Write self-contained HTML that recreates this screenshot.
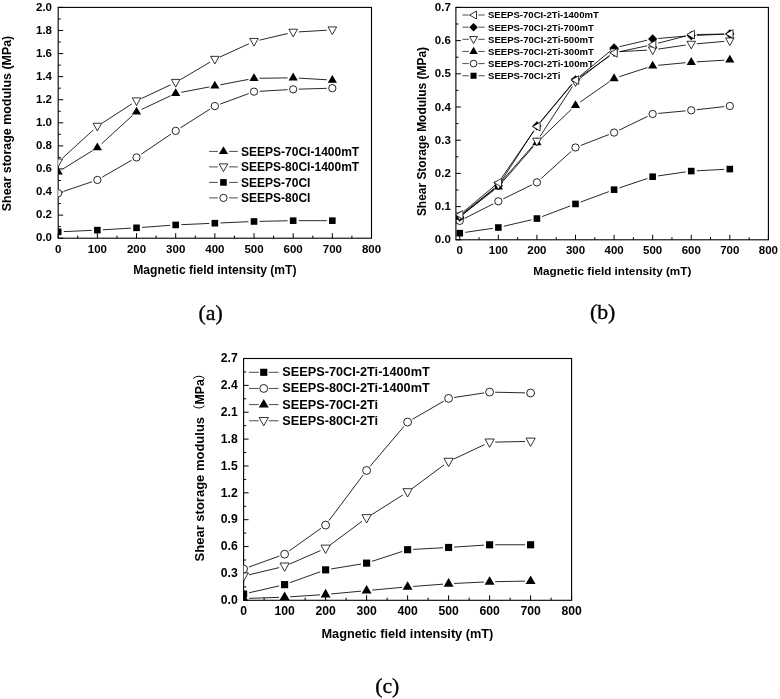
<!DOCTYPE html>
<html><head><meta charset="utf-8"><title>Shear storage modulus vs magnetic field intensity</title>
<style>html,body{margin:0;padding:0;background:#fff}svg{display:block}text{font-family:"Liberation Sans", "Noto Sans CJK SC", sans-serif;fill:#000}</style></head>
<body><svg width="780" height="699" viewBox="0 0 780 699">
<rect width="780" height="699" fill="#fff"/>
<g>
<clipPath id="clipa"><rect x="58.2" y="6.9" width="313.8" height="231.8"/></clipPath>
<path d="M58.2 238.2v-5M97.36 238.2v-5M136.53 238.2v-5M175.69 238.2v-5M214.85 238.2v-5M254.01 238.2v-5M293.18 238.2v-5M332.34 238.2v-5M371.5 238.2v-5M77.78 238.2v-2.6M116.94 238.2v-2.6M156.11 238.2v-2.6M195.27 238.2v-2.6M234.43 238.2v-2.6M273.59 238.2v-2.6M312.76 238.2v-2.6M351.92 238.2v-2.6M58.2 238.2h5M58.2 215.12h5M58.2 192.04h5M58.2 168.96h5M58.2 145.88h5M58.2 122.8h5M58.2 99.72h5M58.2 76.64h5M58.2 53.56h5M58.2 30.48h5M58.2 7.4h5M58.2 226.66h2.6M58.2 203.58h2.6M58.2 180.5h2.6M58.2 157.42h2.6M58.2 134.34h2.6M58.2 111.26h2.6M58.2 88.18h2.6M58.2 65.1h2.6M58.2 42.02h2.6M58.2 18.94h2.6" stroke="#000" stroke-width="1" fill="none"/>
<rect x="58.2" y="7.4" width="313.3" height="230.8" fill="none" stroke="#000" stroke-width="1.1"/>
<text x="58.2" y="252.6" font-size="11.5" text-anchor="middle" font-weight="bold">0</text>
<text x="97.36" y="252.6" font-size="11.5" text-anchor="middle" font-weight="bold">100</text>
<text x="136.53" y="252.6" font-size="11.5" text-anchor="middle" font-weight="bold">200</text>
<text x="175.69" y="252.6" font-size="11.5" text-anchor="middle" font-weight="bold">300</text>
<text x="214.85" y="252.6" font-size="11.5" text-anchor="middle" font-weight="bold">400</text>
<text x="254.01" y="252.6" font-size="11.5" text-anchor="middle" font-weight="bold">500</text>
<text x="293.18" y="252.6" font-size="11.5" text-anchor="middle" font-weight="bold">600</text>
<text x="332.34" y="252.6" font-size="11.5" text-anchor="middle" font-weight="bold">700</text>
<text x="371.5" y="252.6" font-size="11.5" text-anchor="middle" font-weight="bold">800</text>
<text x="52" y="241.32" font-size="11.5" text-anchor="end" font-weight="bold">0.0</text>
<text x="52" y="218.24" font-size="11.5" text-anchor="end" font-weight="bold">0.2</text>
<text x="52" y="195.16" font-size="11.5" text-anchor="end" font-weight="bold">0.4</text>
<text x="52" y="172.08" font-size="11.5" text-anchor="end" font-weight="bold">0.6</text>
<text x="52" y="149" font-size="11.5" text-anchor="end" font-weight="bold">0.8</text>
<text x="52" y="125.92" font-size="11.5" text-anchor="end" font-weight="bold">1.0</text>
<text x="52" y="102.84" font-size="11.5" text-anchor="end" font-weight="bold">1.2</text>
<text x="52" y="79.76" font-size="11.5" text-anchor="end" font-weight="bold">1.4</text>
<text x="52" y="56.68" font-size="11.5" text-anchor="end" font-weight="bold">1.6</text>
<text x="52" y="33.6" font-size="11.5" text-anchor="end" font-weight="bold">1.8</text>
<text x="52" y="10.52" font-size="11.5" text-anchor="end" font-weight="bold">2.0</text>
<g clip-path="url(#clipa)">
<path d="M63.79 231.61L91.77 230.37M102.95 229.79L130.93 228.14M142.11 227.4L170.1 225.34M181.28 224.68L209.26 223.45M220.44 222.95L248.42 221.71M259.61 221.35L287.58 220.77M298.78 220.66L326.74 220.66" stroke="#000" stroke-width="0.85" fill="none"/>
<path d="M63.5 191.4L92.06 181.72M102.22 177.13L131.67 160.21M141.16 154.28L171.05 134.02M180.42 127.88L210.12 109.06M220.1 104.13L248.76 93.58M259.6 91.31L287.58 89.66M298.77 89.17L326.74 88.34" stroke="#000" stroke-width="0.85" fill="none"/>
<path d="M62.33 158.26L93.23 130.04M102.06 123.22L131.83 103.92M141.59 98.49L170.62 84.8M180.51 79.57L210.03 62.17M219.94 57L248.92 43.77M259.46 40.16L287.72 33.5M298.77 31.88L326.75 30.23" stroke="#000" stroke-width="0.85" fill="none"/>
<path d="M62.96 168.9L92.6 150.56M101.5 143.83L132.39 115.61M141.59 109.45L170.62 95.76M181.19 92.32L209.35 86.93M220.35 84.82L248.51 79.42M259.61 78.29L287.58 77.88M298.77 78.12L326.75 79.77" stroke="#000" stroke-width="0.85" fill="none"/>
<rect x="54.9" y="228.55" width="6.6" height="6.6" fill="#000"/>
<rect x="94.06" y="226.82" width="6.6" height="6.6" fill="#000"/>
<rect x="133.22" y="224.51" width="6.6" height="6.6" fill="#000"/>
<rect x="172.39" y="221.63" width="6.6" height="6.6" fill="#000"/>
<rect x="211.55" y="219.9" width="6.6" height="6.6" fill="#000"/>
<rect x="250.71" y="218.17" width="6.6" height="6.6" fill="#000"/>
<rect x="289.88" y="217.36" width="6.6" height="6.6" fill="#000"/>
<rect x="329.04" y="217.36" width="6.6" height="6.6" fill="#000"/>
<circle cx="58.2" cy="193.19" r="3.65" fill="#fff" stroke="#000" stroke-width="0.85"/>
<circle cx="97.36" cy="179.92" r="3.65" fill="#fff" stroke="#000" stroke-width="0.85"/>
<circle cx="136.53" cy="157.42" r="3.65" fill="#fff" stroke="#000" stroke-width="0.85"/>
<circle cx="175.69" cy="130.88" r="3.65" fill="#fff" stroke="#000" stroke-width="0.85"/>
<circle cx="214.85" cy="106.07" r="3.65" fill="#fff" stroke="#000" stroke-width="0.85"/>
<circle cx="254.01" cy="91.64" r="3.65" fill="#fff" stroke="#000" stroke-width="0.85"/>
<circle cx="293.18" cy="89.33" r="3.65" fill="#fff" stroke="#000" stroke-width="0.85"/>
<circle cx="332.34" cy="88.18" r="3.65" fill="#fff" stroke="#000" stroke-width="0.85"/>
<path d="M53.9 159.04 L62.5 159.04 L58.2 166.74 Z" fill="#fff" stroke="#000" stroke-width="0.8"/>
<path d="M93.06 123.26 L101.66 123.26 L97.36 130.96 Z" fill="#fff" stroke="#000" stroke-width="0.8"/>
<path d="M132.22 97.87 L140.83 97.87 L136.53 105.57 Z" fill="#fff" stroke="#000" stroke-width="0.8"/>
<path d="M171.39 79.41 L179.99 79.41 L175.69 87.11 Z" fill="#fff" stroke="#000" stroke-width="0.8"/>
<path d="M210.55 56.33 L219.15 56.33 L214.85 64.03 Z" fill="#fff" stroke="#000" stroke-width="0.8"/>
<path d="M249.71 38.44 L258.31 38.44 L254.01 46.14 Z" fill="#fff" stroke="#000" stroke-width="0.8"/>
<path d="M288.88 29.21 L297.48 29.21 L293.18 36.91 Z" fill="#fff" stroke="#000" stroke-width="0.8"/>
<path d="M328.04 26.9 L336.64 26.9 L332.34 34.6 Z" fill="#fff" stroke="#000" stroke-width="0.8"/>
<path d="M53.6 174.54 L62.8 174.54 L58.2 166.65 Z" fill="#000"/>
<path d="M92.76 150.31 L101.96 150.31 L97.36 142.41 Z" fill="#000"/>
<path d="M131.93 114.54 L141.12 114.54 L136.53 106.64 Z" fill="#000"/>
<path d="M171.09 96.07 L180.29 96.07 L175.69 88.17 Z" fill="#000"/>
<path d="M210.25 88.57 L219.45 88.57 L214.85 80.67 Z" fill="#000"/>
<path d="M249.41 81.07 L258.61 81.07 L254.01 73.17 Z" fill="#000"/>
<path d="M288.57 80.49 L297.78 80.49 L293.18 72.59 Z" fill="#000"/>
<path d="M327.74 82.8 L336.94 82.8 L332.34 74.9 Z" fill="#000"/>
</g>
<path d="M209.1 151.4H217.85M229.05 151.4H237.8" stroke="#000" stroke-width="0.7"/>
<path d="M218.85 154.1 L228.05 154.1 L223.45 146.2 Z" fill="#000"/>
<text x="241.1" y="155.7" font-size="12" text-anchor="start" font-weight="bold">SEEPS-70CI-1400mT</text>
<path d="M209.1 166.9H217.85M229.05 166.9H237.8" stroke="#000" stroke-width="0.7"/>
<path d="M219.15 163.9 L227.75 163.9 L223.45 171.6 Z" fill="#fff" stroke="#000" stroke-width="0.8"/>
<text x="241.1" y="171.2" font-size="12" text-anchor="start" font-weight="bold">SEEPS-80CI-1400mT</text>
<path d="M209.1 182.4H217.85M229.05 182.4H237.8" stroke="#000" stroke-width="0.7"/>
<rect x="220.15" y="179.1" width="6.6" height="6.6" fill="#000"/>
<text x="241.1" y="186.7" font-size="12" text-anchor="start" font-weight="bold">SEEPS-70CI</text>
<path d="M209.1 197.9H217.85M229.05 197.9H237.8" stroke="#000" stroke-width="0.7"/>
<circle cx="223.45" cy="197.9" r="3.65" fill="#fff" stroke="#000" stroke-width="0.85"/>
<text x="241.1" y="202.2" font-size="12" text-anchor="start" font-weight="bold">SEEPS-80CI</text>
<text x="214.9" y="274.4" font-size="12.1" text-anchor="middle" font-weight="bold">Magnetic field intensity (mT)</text>
<text x="11.3" y="123.5" font-size="12" text-anchor="middle" font-weight="bold" transform="rotate(-90 11.3 123.5)" textLength="175.5" lengthAdjust="spacingAndGlyphs">Shear storage modulus (MPa)</text>
<text x="210.6" y="319.5" font-size="21.8" text-anchor="middle" font-weight="normal" style="font-family:'Liberation Serif', 'Times New Roman', serif" stroke="#000" stroke-width="0.35">(a)</text>
</g>
<g>
<clipPath id="clipb"><rect x="455.9" y="6.9" width="313" height="233.4"/></clipPath>
<path d="M459.76 239.8v-5M498.34 239.8v-5M536.92 239.8v-5M575.5 239.8v-5M614.08 239.8v-5M652.66 239.8v-5M691.24 239.8v-5M729.82 239.8v-5M768.4 239.8v-5M479.05 239.8v-2.6M517.63 239.8v-2.6M556.21 239.8v-2.6M594.79 239.8v-2.6M633.37 239.8v-2.6M671.95 239.8v-2.6M710.53 239.8v-2.6M749.11 239.8v-2.6M455.9 239.8h5M455.9 206.6h5M455.9 173.4h5M455.9 140.2h5M455.9 107h5M455.9 73.8h5M455.9 40.6h5M455.9 7.4h5M455.9 223.2h2.6M455.9 190h2.6M455.9 156.8h2.6M455.9 123.6h2.6M455.9 90.4h2.6M455.9 57.2h2.6M455.9 24h2.6" stroke="#000" stroke-width="1" fill="none"/>
<rect x="455.9" y="7.4" width="312.5" height="232.4" fill="none" stroke="#000" stroke-width="1.1"/>
<text x="459.76" y="253.9" font-size="11.5" text-anchor="middle" font-weight="bold">0</text>
<text x="498.34" y="253.9" font-size="11.5" text-anchor="middle" font-weight="bold">100</text>
<text x="536.92" y="253.9" font-size="11.5" text-anchor="middle" font-weight="bold">200</text>
<text x="575.5" y="253.9" font-size="11.5" text-anchor="middle" font-weight="bold">300</text>
<text x="614.08" y="253.9" font-size="11.5" text-anchor="middle" font-weight="bold">400</text>
<text x="652.66" y="253.9" font-size="11.5" text-anchor="middle" font-weight="bold">500</text>
<text x="691.24" y="253.9" font-size="11.5" text-anchor="middle" font-weight="bold">600</text>
<text x="729.82" y="253.9" font-size="11.5" text-anchor="middle" font-weight="bold">700</text>
<text x="768.4" y="253.9" font-size="11.5" text-anchor="middle" font-weight="bold">800</text>
<text x="450.8" y="243.42" font-size="11.5" text-anchor="end" font-weight="bold">0.0</text>
<text x="450.8" y="210.22" font-size="11.5" text-anchor="end" font-weight="bold">0.1</text>
<text x="450.8" y="177.02" font-size="11.5" text-anchor="end" font-weight="bold">0.2</text>
<text x="450.8" y="143.82" font-size="11.5" text-anchor="end" font-weight="bold">0.3</text>
<text x="450.8" y="110.62" font-size="11.5" text-anchor="end" font-weight="bold">0.4</text>
<text x="450.8" y="77.42" font-size="11.5" text-anchor="end" font-weight="bold">0.5</text>
<text x="450.8" y="44.22" font-size="11.5" text-anchor="end" font-weight="bold">0.6</text>
<text x="450.8" y="11.02" font-size="11.5" text-anchor="end" font-weight="bold">0.7</text>
<g clip-path="url(#clipb)">
<path d="M465.3 232.35L492.8 228.33M503.79 226.25L531.46 219.82M542.16 216.57L570.26 205.93M580.75 202L608.83 191.61M619.39 187.89L647.35 178.5M658.2 175.91L685.7 171.89M696.83 170.79L724.23 169.37" stroke="#000" stroke-width="0.85" fill="none"/>
<path d="M464.75 218.34L493.34 203.82M503.37 198.82L531.89 184.83M541.07 178.61L571.34 151.26M580.72 145.48L608.86 134.59M619.12 130.13L647.61 116.4M658.23 113.44L685.66 110.85M696.8 109.7L724.25 106.63" stroke="#000" stroke-width="0.85" fill="none"/>
<path d="M464.19 213.13L493.91 190.11M502.02 182.46L533.23 146.74M540.95 138.64L571.47 109.23M580.09 102.14L609.48 81.65M619.4 76.71L647.34 67.57M658.23 65.3L685.66 62.71M696.83 61.84L724.23 60.19" stroke="#000" stroke-width="0.85" fill="none"/>
<path d="M464.09 213.68L494 189.23M501.38 180.98L533.88 130.63M540.51 121.63L571.91 84.07M579.82 76.21L609.76 51.47M619.53 46.64L647.2 40.21M658.24 38.46L685.66 36.1M696.83 35.38L724.22 34.2" stroke="#000" stroke-width="0.85" fill="none"/>
<path d="M464.13 212.4L493.97 188.52M502.04 180.82L533.22 145.4M539.97 136.5L572.45 86.47M579.93 78.34L609.65 55.32M619.67 51.6L647.07 50.18M658.2 49.09L685.7 45.06M696.82 43.77L724.24 41.41" stroke="#000" stroke-width="0.85" fill="none"/>
<path d="M464.06 211.31L494.04 186.28M501.51 178.08L533.75 131.2M540.5 122.28L571.92 84.42M580.07 76.88L609.5 56.11M619.55 51.71L647.18 45.76M658.08 43.18L685.82 36.02M696.84 34.53L724.22 34.06" stroke="#000" stroke-width="0.85" fill="none"/>
<rect x="456.46" y="229.86" width="6.6" height="6.6" fill="#000"/>
<rect x="495.04" y="224.22" width="6.6" height="6.6" fill="#000"/>
<rect x="533.62" y="215.25" width="6.6" height="6.6" fill="#000"/>
<rect x="572.2" y="200.64" width="6.6" height="6.6" fill="#000"/>
<rect x="610.78" y="186.37" width="6.6" height="6.6" fill="#000"/>
<rect x="649.36" y="173.42" width="6.6" height="6.6" fill="#000"/>
<rect x="687.94" y="167.78" width="6.6" height="6.6" fill="#000"/>
<rect x="726.52" y="165.78" width="6.6" height="6.6" fill="#000"/>
<circle cx="459.76" cy="220.88" r="3.65" fill="#fff" stroke="#000" stroke-width="0.85"/>
<circle cx="498.34" cy="201.29" r="3.65" fill="#fff" stroke="#000" stroke-width="0.85"/>
<circle cx="536.92" cy="182.36" r="3.65" fill="#fff" stroke="#000" stroke-width="0.85"/>
<circle cx="575.5" cy="147.5" r="3.65" fill="#fff" stroke="#000" stroke-width="0.85"/>
<circle cx="614.08" cy="132.56" r="3.65" fill="#fff" stroke="#000" stroke-width="0.85"/>
<circle cx="652.66" cy="113.97" r="3.65" fill="#fff" stroke="#000" stroke-width="0.85"/>
<circle cx="691.24" cy="110.32" r="3.65" fill="#fff" stroke="#000" stroke-width="0.85"/>
<circle cx="729.82" cy="106" r="3.65" fill="#fff" stroke="#000" stroke-width="0.85"/>
<path d="M455.16 219.26 L464.36 219.26 L459.76 211.36 Z" fill="#000"/>
<path d="M493.74 189.38 L502.94 189.38 L498.34 181.48 Z" fill="#000"/>
<path d="M532.32 145.22 L541.52 145.22 L536.92 137.32 Z" fill="#000"/>
<path d="M570.9 108.04 L580.1 108.04 L575.5 100.14 Z" fill="#000"/>
<path d="M609.48 81.15 L618.68 81.15 L614.08 73.25 Z" fill="#000"/>
<path d="M648.06 68.53 L657.26 68.53 L652.66 60.63 Z" fill="#000"/>
<path d="M686.64 64.88 L695.84 64.88 L691.24 56.98 Z" fill="#000"/>
<path d="M725.22 62.56 L734.42 62.56 L729.82 54.66 Z" fill="#000"/>
<path d="M455.16 217.22 L459.76 212.62 L464.36 217.22 L459.76 221.82 Z" fill="#000"/>
<path d="M493.74 185.68 L498.34 181.08 L502.94 185.68 L498.34 190.28 Z" fill="#000"/>
<path d="M532.32 125.92 L536.92 121.32 L541.52 125.92 L536.92 130.52 Z" fill="#000"/>
<path d="M570.9 79.78 L575.5 75.18 L580.1 79.78 L575.5 84.38 Z" fill="#000"/>
<path d="M609.48 47.9 L614.08 43.3 L618.68 47.9 L614.08 52.5 Z" fill="#000"/>
<path d="M648.06 38.94 L652.66 34.34 L657.26 38.94 L652.66 43.54 Z" fill="#000"/>
<path d="M686.64 35.62 L691.24 31.02 L695.84 35.62 L691.24 40.22 Z" fill="#000"/>
<path d="M725.22 33.96 L729.82 29.36 L734.42 33.96 L729.82 38.56 Z" fill="#000"/>
<path d="M455.46 212.9 L464.06 212.9 L459.76 220.6 Z" fill="#fff" stroke="#000" stroke-width="0.8"/>
<path d="M494.04 182.02 L502.64 182.02 L498.34 189.72 Z" fill="#fff" stroke="#000" stroke-width="0.8"/>
<path d="M532.62 138.2 L541.22 138.2 L536.92 145.9 Z" fill="#fff" stroke="#000" stroke-width="0.8"/>
<path d="M571.2 78.77 L579.8 78.77 L575.5 86.47 Z" fill="#fff" stroke="#000" stroke-width="0.8"/>
<path d="M609.78 48.89 L618.38 48.89 L614.08 56.59 Z" fill="#fff" stroke="#000" stroke-width="0.8"/>
<path d="M648.36 46.9 L656.96 46.9 L652.66 54.6 Z" fill="#fff" stroke="#000" stroke-width="0.8"/>
<path d="M686.94 41.25 L695.54 41.25 L691.24 48.95 Z" fill="#fff" stroke="#000" stroke-width="0.8"/>
<path d="M725.52 37.93 L734.12 37.93 L729.82 45.63 Z" fill="#fff" stroke="#000" stroke-width="0.8"/>
<path d="M462.96 210.6 L462.96 219.2 L455.36 214.9 Z" fill="#fff" stroke="#000" stroke-width="0.8"/>
<path d="M501.54 178.4 L501.54 187 L493.94 182.7 Z" fill="#fff" stroke="#000" stroke-width="0.8"/>
<path d="M540.12 122.29 L540.12 130.89 L532.52 126.59 Z" fill="#fff" stroke="#000" stroke-width="0.8"/>
<path d="M578.7 75.81 L578.7 84.41 L571.1 80.11 Z" fill="#fff" stroke="#000" stroke-width="0.8"/>
<path d="M617.28 48.58 L617.28 57.18 L609.68 52.88 Z" fill="#fff" stroke="#000" stroke-width="0.8"/>
<path d="M655.86 40.28 L655.86 48.88 L648.26 44.58 Z" fill="#fff" stroke="#000" stroke-width="0.8"/>
<path d="M694.44 30.32 L694.44 38.92 L686.84 34.62 Z" fill="#fff" stroke="#000" stroke-width="0.8"/>
<path d="M733.02 29.66 L733.02 38.26 L725.42 33.96 Z" fill="#fff" stroke="#000" stroke-width="0.8"/>
</g>
<path d="M462.4 15H468.75M478.35 15H484.7" stroke="#000" stroke-width="0.7"/>
<path d="M476.49 11.04 L476.49 18.96 L469.5 15 Z" fill="#fff" stroke="#000" stroke-width="0.8"/>
<text x="488" y="18.44" font-size="9.6" text-anchor="start" font-weight="bold" textLength="110.8" lengthAdjust="spacingAndGlyphs">SEEPS-70CI-2Ti-1400mT</text>
<path d="M462.4 27.15H468.75M478.35 27.15H484.7" stroke="#000" stroke-width="0.7"/>
<path d="M469.32 27.15 L473.55 22.92 L477.78 27.15 L473.55 31.38 Z" fill="#000"/>
<text x="488" y="30.59" font-size="9.6" text-anchor="start" font-weight="bold">SEEPS-70CI-2Ti-700mT</text>
<path d="M462.4 39.3H468.75M478.35 39.3H484.7" stroke="#000" stroke-width="0.7"/>
<path d="M469.59 36.54 L477.51 36.54 L473.55 43.62 Z" fill="#fff" stroke="#000" stroke-width="0.8"/>
<text x="488" y="42.74" font-size="9.6" text-anchor="start" font-weight="bold">SEEPS-70CI-2Ti-500mT</text>
<path d="M462.4 51.45H468.75M478.35 51.45H484.7" stroke="#000" stroke-width="0.7"/>
<path d="M469.32 53.93 L477.78 53.93 L473.55 46.67 Z" fill="#000"/>
<text x="488" y="54.89" font-size="9.6" text-anchor="start" font-weight="bold">SEEPS-70CI-2Ti-300mT</text>
<path d="M462.4 63.6H468.75M478.35 63.6H484.7" stroke="#000" stroke-width="0.7"/>
<circle cx="473.55" cy="63.6" r="3.36" fill="#fff" stroke="#000" stroke-width="0.85"/>
<text x="488" y="67.04" font-size="9.6" text-anchor="start" font-weight="bold">SEEPS-70CI-2Ti-100mT</text>
<path d="M462.4 75.75H468.75M478.35 75.75H484.7" stroke="#000" stroke-width="0.7"/>
<rect x="470.51" y="72.71" width="6.07" height="6.07" fill="#000"/>
<text x="488" y="79.19" font-size="9.6" text-anchor="start" font-weight="bold">SEEPS-70CI-2Ti</text>
<text x="612.3" y="275" font-size="11.7" text-anchor="middle" font-weight="bold" textLength="158" lengthAdjust="spacingAndGlyphs">Magnetic field intensity (mT)</text>
<text x="426" y="131.5" font-size="12" text-anchor="middle" font-weight="bold" transform="rotate(-90 426 131.5)" textLength="169.2" lengthAdjust="spacingAndGlyphs">Shear Storage Modulus (MPa)</text>
<text x="602.6" y="319.2" font-size="21.8" text-anchor="middle" font-weight="normal" style="font-family:'Liberation Serif', 'Times New Roman', serif" stroke="#000" stroke-width="0.35">(b)</text>
</g>
<g>
<clipPath id="clipc"><rect x="243.6" y="358" width="328.5" height="242.8"/></clipPath>
<path d="M243.6 600.3v-5M284.6 600.3v-5M325.6 600.3v-5M366.6 600.3v-5M407.6 600.3v-5M448.6 600.3v-5M489.6 600.3v-5M530.6 600.3v-5M571.6 600.3v-5M264.1 600.3v-2.6M305.1 600.3v-2.6M346.1 600.3v-2.6M387.1 600.3v-2.6M428.1 600.3v-2.6M469.1 600.3v-2.6M510.1 600.3v-2.6M551.1 600.3v-2.6M243.6 600.3h5M243.6 573.43h5M243.6 546.57h5M243.6 519.7h5M243.6 492.83h5M243.6 465.97h5M243.6 439.1h5M243.6 412.23h5M243.6 385.37h5M243.6 358.5h5M243.6 586.87h2.6M243.6 560h2.6M243.6 533.13h2.6M243.6 506.27h2.6M243.6 479.4h2.6M243.6 452.53h2.6M243.6 425.67h2.6M243.6 398.8h2.6M243.6 371.93h2.6" stroke="#000" stroke-width="1" fill="none"/>
<rect x="243.6" y="358.5" width="328" height="241.8" fill="none" stroke="#000" stroke-width="1.1"/>
<text x="243.6" y="615" font-size="12.2" text-anchor="middle" font-weight="bold">0</text>
<text x="284.6" y="615" font-size="12.2" text-anchor="middle" font-weight="bold">100</text>
<text x="325.6" y="615" font-size="12.2" text-anchor="middle" font-weight="bold">200</text>
<text x="366.6" y="615" font-size="12.2" text-anchor="middle" font-weight="bold">300</text>
<text x="407.6" y="615" font-size="12.2" text-anchor="middle" font-weight="bold">400</text>
<text x="448.6" y="615" font-size="12.2" text-anchor="middle" font-weight="bold">500</text>
<text x="489.6" y="615" font-size="12.2" text-anchor="middle" font-weight="bold">600</text>
<text x="530.6" y="615" font-size="12.2" text-anchor="middle" font-weight="bold">700</text>
<text x="571.6" y="615" font-size="12.2" text-anchor="middle" font-weight="bold">800</text>
<text x="237.7" y="604.07" font-size="12.2" text-anchor="end" font-weight="bold">0.0</text>
<text x="237.7" y="577.2" font-size="12.2" text-anchor="end" font-weight="bold">0.3</text>
<text x="237.7" y="550.33" font-size="12.2" text-anchor="end" font-weight="bold">0.6</text>
<text x="237.7" y="523.47" font-size="12.2" text-anchor="end" font-weight="bold">0.9</text>
<text x="237.7" y="496.6" font-size="12.2" text-anchor="end" font-weight="bold">1.2</text>
<text x="237.7" y="469.73" font-size="12.2" text-anchor="end" font-weight="bold">1.5</text>
<text x="237.7" y="442.87" font-size="12.2" text-anchor="end" font-weight="bold">1.8</text>
<text x="237.7" y="416" font-size="12.2" text-anchor="end" font-weight="bold">2.1</text>
<text x="237.7" y="389.13" font-size="12.2" text-anchor="end" font-weight="bold">2.4</text>
<text x="237.7" y="362.27" font-size="12.2" text-anchor="end" font-weight="bold">2.7</text>
<g clip-path="url(#clipc)">
<path d="M249.2 598.33L279 597.35M290.19 596.8L320.01 594.85M331.18 593.96L361.02 591.15M372.18 590.12L402.02 587.38M413.18 586.44L443.02 584.16M454.19 583.46L484.01 582.03M495.2 581.66L525 581.14" stroke="#000" stroke-width="0.85" fill="none"/>
<path d="M249.06 592.78L279.14 585.88M289.87 582.73L320.33 571.75M331.13 568.95L361.07 564.04M371.92 561.39L402.28 551.44M413.19 549.4L443.01 547.77M454.19 547.1L484.01 545.14M495.2 544.78L525 544.78" stroke="#000" stroke-width="0.85" fill="none"/>
<path d="M249.05 574.81L279.15 567.58M289.73 564.03L320.47 550.6M330.1 545.02L362.1 521.25M371.33 514.91L402.87 494.93M412.1 488.6L444.1 464.83M453.67 459.11L484.53 444.61M495.2 442.11L525 441.46" stroke="#000" stroke-width="0.85" fill="none"/>
<path d="M248.87 567.06L279.33 556.08M289.17 550.94L321.03 528.31M328.96 520.59L363.24 474.92M370.22 466.17L403.98 426.36M412.45 419.28L443.75 401.16M454.14 397.51L484.06 392.93M495.2 392.21L525 392.86" stroke="#000" stroke-width="0.85" fill="none"/>
<path d="M238.63 601.42 L248.57 601.42 L243.6 592.89 Z" fill="#000"/>
<path d="M279.63 600.08 L289.57 600.08 L284.6 591.55 Z" fill="#000"/>
<path d="M320.63 597.39 L330.57 597.39 L325.6 588.86 Z" fill="#000"/>
<path d="M361.63 593.54 L371.57 593.54 L366.6 585.01 Z" fill="#000"/>
<path d="M402.63 589.78 L412.57 589.78 L407.6 581.25 Z" fill="#000"/>
<path d="M443.63 586.65 L453.57 586.65 L448.6 578.12 Z" fill="#000"/>
<path d="M484.63 584.68 L494.57 584.68 L489.6 576.15 Z" fill="#000"/>
<path d="M525.63 583.96 L535.57 583.96 L530.6 575.43 Z" fill="#000"/>
<rect x="240.04" y="590.47" width="7.13" height="7.13" fill="#000"/>
<rect x="281.04" y="581.06" width="7.13" height="7.13" fill="#000"/>
<rect x="322.04" y="566.29" width="7.13" height="7.13" fill="#000"/>
<rect x="363.04" y="559.57" width="7.13" height="7.13" fill="#000"/>
<rect x="404.04" y="546.14" width="7.13" height="7.13" fill="#000"/>
<rect x="445.04" y="543.9" width="7.13" height="7.13" fill="#000"/>
<rect x="486.04" y="541.21" width="7.13" height="7.13" fill="#000"/>
<rect x="527.04" y="541.21" width="7.13" height="7.13" fill="#000"/>
<path d="M238.96 572.88 L248.24 572.88 L243.6 581.2 Z" fill="#fff" stroke="#000" stroke-width="0.8"/>
<path d="M279.96 563.03 L289.24 563.03 L284.6 571.34 Z" fill="#fff" stroke="#000" stroke-width="0.8"/>
<path d="M320.96 545.12 L330.24 545.12 L325.6 553.43 Z" fill="#fff" stroke="#000" stroke-width="0.8"/>
<path d="M361.96 514.67 L371.24 514.67 L366.6 522.98 Z" fill="#fff" stroke="#000" stroke-width="0.8"/>
<path d="M402.96 488.7 L412.24 488.7 L407.6 497.01 Z" fill="#fff" stroke="#000" stroke-width="0.8"/>
<path d="M443.96 458.25 L453.24 458.25 L448.6 466.56 Z" fill="#fff" stroke="#000" stroke-width="0.8"/>
<path d="M484.96 438.99 L494.24 438.99 L489.6 447.31 Z" fill="#fff" stroke="#000" stroke-width="0.8"/>
<path d="M525.96 438.1 L535.24 438.1 L530.6 446.41 Z" fill="#fff" stroke="#000" stroke-width="0.8"/>
<circle cx="243.6" cy="568.96" r="3.94" fill="#fff" stroke="#000" stroke-width="0.85"/>
<circle cx="284.6" cy="554.18" r="3.94" fill="#fff" stroke="#000" stroke-width="0.85"/>
<circle cx="325.6" cy="525.07" r="3.94" fill="#fff" stroke="#000" stroke-width="0.85"/>
<circle cx="366.6" cy="470.44" r="3.94" fill="#fff" stroke="#000" stroke-width="0.85"/>
<circle cx="407.6" cy="422.08" r="3.94" fill="#fff" stroke="#000" stroke-width="0.85"/>
<circle cx="448.6" cy="398.35" r="3.94" fill="#fff" stroke="#000" stroke-width="0.85"/>
<circle cx="489.6" cy="392.08" r="3.94" fill="#fff" stroke="#000" stroke-width="0.85"/>
<circle cx="530.6" cy="392.98" r="3.94" fill="#fff" stroke="#000" stroke-width="0.85"/>
</g>
<path d="M249 372.3H258.75M268.75 372.3H278.5" stroke="#000" stroke-width="0.7"/>
<rect x="260.19" y="368.74" width="7.13" height="7.13" fill="#000"/>
<text x="282.3" y="376.3" font-size="12.3" text-anchor="start" font-weight="bold" textLength="147.41" lengthAdjust="spacingAndGlyphs">SEEPS-70CI-2Ti-1400mT</text>
<path d="M249 388.45H258.75M268.75 388.45H278.5" stroke="#000" stroke-width="0.7"/>
<circle cx="263.75" cy="388.45" r="3.94" fill="#fff" stroke="#000" stroke-width="0.85"/>
<text x="282.3" y="392.45" font-size="12.3" text-anchor="start" font-weight="bold" textLength="147.41" lengthAdjust="spacingAndGlyphs">SEEPS-80CI-2Ti-1400mT</text>
<path d="M249 404.6H258.75M268.75 404.6H278.5" stroke="#000" stroke-width="0.7"/>
<path d="M258.78 407.52 L268.72 407.52 L263.75 398.98 Z" fill="#000"/>
<text x="282.3" y="408.6" font-size="12.3" text-anchor="start" font-weight="bold" textLength="95.84" lengthAdjust="spacingAndGlyphs">SEEPS-70CI-2Ti</text>
<path d="M249 420.75H258.75M268.75 420.75H278.5" stroke="#000" stroke-width="0.7"/>
<path d="M259.11 417.51 L268.39 417.51 L263.75 425.83 Z" fill="#fff" stroke="#000" stroke-width="0.8"/>
<text x="282.3" y="424.75" font-size="12.3" text-anchor="start" font-weight="bold" textLength="95.84" lengthAdjust="spacingAndGlyphs">SEEPS-80CI-2Ti</text>
<text x="407.4" y="637.9" font-size="12.4" text-anchor="middle" font-weight="bold" textLength="171.8" lengthAdjust="spacingAndGlyphs">Magnetic field intensity (mT)</text>
<g transform="translate(204.3 561.4) rotate(-90)">
<text x="0" y="0" font-size="12.3" text-anchor="start" font-weight="bold" textLength="144.5" lengthAdjust="spacingAndGlyphs">Shear storage modulus</text>
<text x="144.3" y="0" font-size="12.3" text-anchor="start" font-weight="normal">（</text>
<text x="157" y="0" font-size="12.3" text-anchor="start" font-weight="bold">MPa</text>
<text x="182" y="0" font-size="12.3" text-anchor="start" font-weight="normal">）</text>
</g>
<text x="387.3" y="693" font-size="21.8" text-anchor="middle" font-weight="normal" style="font-family:'Liberation Serif', 'Times New Roman', serif" stroke="#000" stroke-width="0.35">(c)</text>
</g>
</svg></body></html>
